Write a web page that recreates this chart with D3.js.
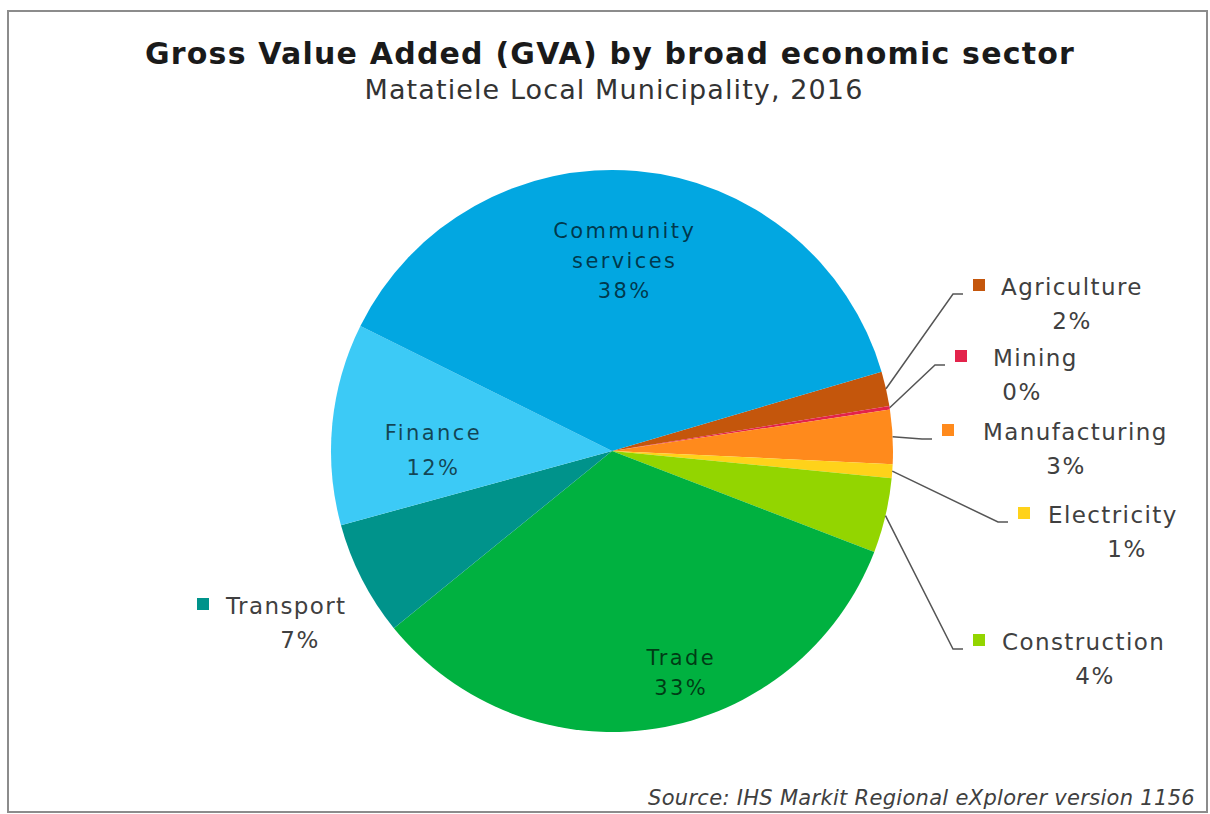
<!DOCTYPE html>
<html>
<head>
<meta charset="utf-8">
<script src="https://cdn.jsdelivr.net/npm/d3@7"></script>
<style>
  html, body { margin: 0; padding: 0; background: #fff; }
  svg { display: block; }
  text { font-family: "DejaVu Sans", Verdana, sans-serif; }
</style>
</head>
<body>
<svg id="chart" width="1210" height="814"></svg>
<script>
// Gross Value Added by broad economic sector, Matatiele Local Municipality, 2016 (share of total, %)
const sectors = ["Agriculture", "Mining", "Manufacturing", "Electricity", "Construction",
                 "Trade", "Transport", "Finance", "Community services"];
const shares  = [2.0, 0.2, 3.1, 0.8, 4.3, 33.3, 6.6, 11.6, 38.1];
const colours = ["#c4560c", "#e3234b", "#ff8a1c", "#ffd21a", "#93d500",
                 "#00b140", "#00938b", "#3ccaf6", "#02a7e1"];

const titleText    = "Gross Value Added (GVA) by broad economic sector";
const subtitleText = "Matatiele Local Municipality, 2016";
const sourceText   = "Source: IHS Markit Regional eXplorer version 1156";

// Sectors labelled inside their slice; the rest get a key marker outside
const insideSectors = ["Community services", "Finance", "Trade"];

const width = 1210, height = 814;
const cx = 612, cy = 451, radius = 281;
const startAngle = 73.6 * Math.PI / 180;

const svg = d3.select("#chart");

// frame
svg.append("rect")
  .attr("x", 8).attr("y", 11)
  .attr("width", 1199).attr("height", 801)
  .attr("fill", "#fff")
  .attr("stroke", "#8c8c8c")
  .attr("stroke-width", 2);

// titles
svg.append("text")
  .attr("x", 610).attr("y", 64)
  .attr("text-anchor", "middle")
  .attr("font-size", 30).attr("font-weight", "bold")
  .attr("letter-spacing", 1.2)
  .attr("fill", "#1a1a1a")
  .text(titleText);

svg.append("text")
  .attr("x", 614).attr("y", 99)
  .attr("text-anchor", "middle")
  .attr("font-size", 27)
  .attr("letter-spacing", 1.1)
  .attr("fill", "#333")
  .text(subtitleText);

// pie
const data = sectors.map((s, i) => ({ sector: s, value: shares[i], colour: colours[i] }));
const total = d3.sum(shares);
const pct = d => Math.round(d.data.value / total * 100) + "%";

const pie = d3.pie()
  .sort(null)
  .value(d => d.value)
  .startAngle(startAngle)
  .endAngle(startAngle + 2 * Math.PI);

const arcs = pie(data);
const arc = d3.arc().innerRadius(0).outerRadius(radius);

const g = svg.append("g").attr("transform", `translate(${cx},${cy})`);

g.selectAll("path.slice")
  .data(arcs)
  .join("path")
  .attr("class", "slice")
  .attr("d", arc)
  .attr("fill", d => d.data.colour);

// labels inside the large slices
const insideOpts = {
  "Community services": { r: 0.68, dx: -4, dy: 0,  lh: 30, lines: ["Community", "services"] },
  "Finance":            { r: 0.66, dx: 6,  dy: 17, lh: 35, lines: ["Finance"] },
  "Trade":              { r: 0.80, dx: 34, dy: 0,  lh: 30, lines: ["Trade"] }
};

arcs.filter(d => insideSectors.includes(d.data.sector)).forEach(d => {
  const o = insideOpts[d.data.sector];
  const [x, y] = d3.arc().innerRadius(radius * o.r).outerRadius(radius * o.r).centroid(d);
  const lines = o.lines.concat([pct(d)]);
  const y0 = y + o.dy - (lines.length - 1) * o.lh / 2 + 7;
  const t = g.append("text")
    .attr("text-anchor", "middle")
    .attr("font-size", 21)
    .attr("letter-spacing", 2.4)
    .attr("fill", "#000")
    .attr("fill-opacity", 0.68);
  lines.forEach((l, i) => {
    t.append("tspan").attr("x", x + o.dx).attr("y", y0 + i * o.lh).text(l);
  });
});

// outside labels: key marker, name, share, leader line
const outsideLayout = {
  "Agriculture":   { mx: 973,  tx: 1001, px: 1072, y: 295, leader: true },
  "Mining":        { mx: 955,  tx: 993,  px: 1022, y: 366, leader: true },
  "Manufacturing": { mx: 942,  tx: 983,  px: 1066, y: 440, leader: true },
  "Electricity":   { mx: 1018, tx: 1048, px: 1127, y: 523, leader: true },
  "Construction":  { mx: 973,  tx: 1002, px: 1095, y: 650, leader: true },
  "Transport":     { mx: 197,  tx: 226,  px: 300,  y: 614, leader: false }
};

const edge = d3.arc().innerRadius(radius).outerRadius(radius);
const line = d3.line();

arcs.filter(d => !insideSectors.includes(d.data.sector)).forEach(d => {
  const L = outsideLayout[d.data.sector];
  if (L.leader) {
    const [ex, ey] = edge.centroid(d);
    const ly = L.y - 1;
    svg.append("path")
      .attr("d", line([[cx + ex, cy + ey], [L.mx - 20, ly], [L.mx - 10, ly]]))
      .attr("fill", "none")
      .attr("stroke", "#555")
      .attr("stroke-width", 1.5);
  }
  svg.append("rect")
    .attr("x", L.mx).attr("y", L.y - 16)
    .attr("width", 12).attr("height", 12)
    .attr("fill", d.data.colour);
  svg.append("text")
    .attr("x", L.tx).attr("y", L.y)
    .attr("font-size", 23)
    .attr("letter-spacing", 1.4)
    .attr("fill", "#404040")
    .text(d.data.sector);
  svg.append("text")
    .attr("x", L.px).attr("y", L.y + 34)
    .attr("text-anchor", "middle")
    .attr("font-size", 23)
    .attr("letter-spacing", 1.4)
    .attr("fill", "#404040")
    .text(pct(d));
});

// source note, bottom right
svg.append("text")
  .attr("x", 1195).attr("y", 805)
  .attr("text-anchor", "end")
  .attr("font-size", 21)
  .attr("font-style", "italic")
  .attr("letter-spacing", 0.3)
  .attr("fill", "#404040")
  .text(sourceText);
</script>
</body>
</html>
